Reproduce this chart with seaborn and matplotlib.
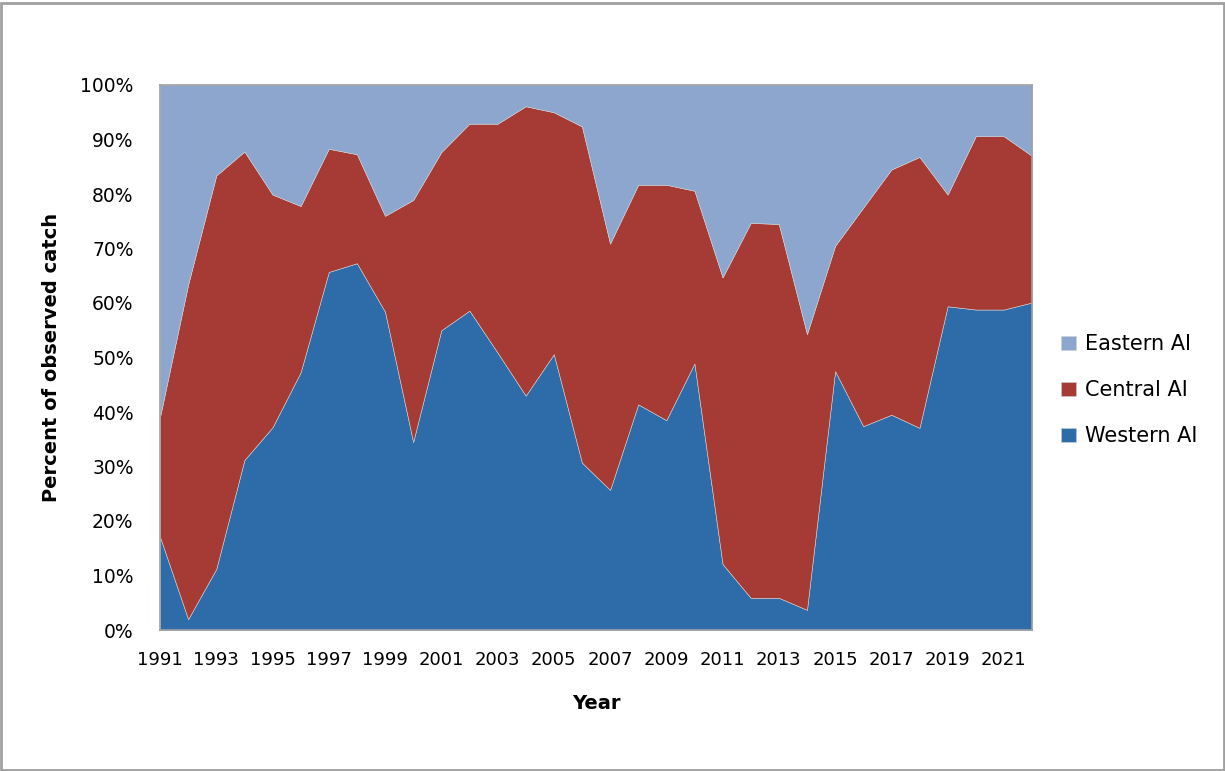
import matplotlib
matplotlib.use("Agg")
import matplotlib.pyplot as plt
import seaborn as sns
import numpy as np
from matplotlib.patches import Rectangle
from matplotlib.ticker import FuncFormatter, MultipleLocator

years = list(range(1991, 2023))
western = [17.1, 2.0, 11.2, 31.2, 37.2, 47.3, 65.7, 67.3, 58.4, 34.5, 55.0,
           58.6, 50.9, 43.0, 50.6, 30.7, 25.7, 41.4, 38.5, 48.9, 12.1,
           5.9, 5.9, 3.7, 47.5, 37.4, 39.5, 37.1, 59.4, 58.8, 58.8, 60.1]
central_top = [39.1, 63.4, 83.4, 87.8, 79.9, 77.8, 88.3, 87.3, 76.0, 78.9, 87.7,
               92.9, 92.9, 96.1, 95.0, 92.4, 70.9, 81.7, 81.7, 80.6, 64.7,
               74.7, 74.5, 54.3, 70.5, 77.5, 84.5, 86.8, 79.9, 90.6, 90.6, 87.0]
central = [round(t - w, 1) for t, w in zip(central_top, western)]
eastern = [round(100 - t, 1) for t in central_top]
series_names = ["Western AI", "Central AI", "Eastern AI"]
colors = ["#2E6CA9", "#A63A35", "#8DA6CE"]

sns.set_theme(style="white")
plt.rcParams['font.family'] = ['DejaVu Sans']
plt.rcParams['text.color'] = 'black'

fig = plt.figure(figsize=(12.25, 7.71), dpi=100)
fig.patch.set_facecolor("white")
ax = fig.add_axes([160/1225, 1 - 630/771, (1032-160)/1225, (630-85)/771])

polys = ax.stackplot(years, western, central, eastern, colors=colors,
                     labels=series_names, edgecolor="#d0d0d0", linewidth=0.4)

ax.set_xlim(1991, 2022)
ax.set_ylim(0, 100)
ax.yaxis.set_major_locator(MultipleLocator(10))
ax.yaxis.set_major_formatter(FuncFormatter(lambda v, p: f"{int(round(v))}%"))
ax.set_xticks(years)
ax.set_xticklabels([str(y) if (y - 1991) % 2 == 0 else "" for y in years])
ax.tick_params(axis="both", which="major", direction="out", length=5, width=1,
               color="#a0a0a0", labelcolor="black")
ax.tick_params(axis="x", labelsize=13, pad=10)
ax.tick_params(axis="y", labelsize=13.5, pad=14)
for s in ax.spines.values():
    s.set_color("#a0a0a0")
    s.set_linewidth(1.2)

ax.set_xlabel("Year", fontsize=14, fontweight="bold", labelpad=18, color="black")
ax.set_ylabel("Percent of observed catch", fontsize=14, fontweight="bold",
              labelpad=14, color="black")

handles, labels = ax.get_legend_handles_labels()
leg = ax.legend(handles[::-1], labels[::-1], loc="center left",
                bbox_to_anchor=(1.012, 0.44), frameon=False, fontsize=15,
                handlelength=0.7, handleheight=0.7, handletextpad=0.45,
                labelspacing=1.25)
for t in leg.get_texts():
    t.set_color("black")

fig.add_artist(Rectangle((0.001, 0.001), 0.998, 0.995, transform=fig.transFigure,
                         fill=False, edgecolor="#a0a0a0", linewidth=2))

fig.savefig("out.png", dpi=100)
